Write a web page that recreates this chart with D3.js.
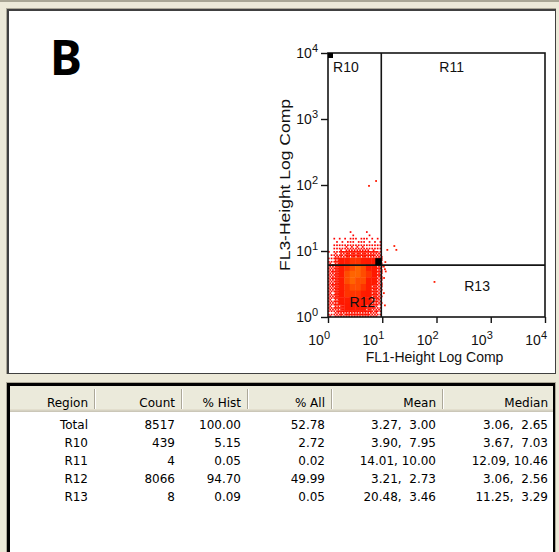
<!DOCTYPE html>
<html>
<head>
<meta charset="utf-8">
<script src="https://cdn.jsdelivr.net/npm/d3@7"></script>
<style>
	html, body { margin: 0; padding: 0; background: #ece9d8; }
	svg { display: block; }
</style>
</head>
<body>
<svg id="chart" width="559" height="552"></svg>
<script>
// ---- data ----
const columnNames = ["Region", "Count", "% Hist", "% All", "Mean", "Median"];
const regionNames = ["Total", "R10", "R11", "R12", "R13"];
const counts = [8517, 439, 4, 8066, 8];
const pctHist = ["100.00", "5.15", "0.05", "94.70", "0.09"];
const pctAll = ["52.78", "2.72", "0.02", "49.99", "0.05"];
const means = ["3.27,  3.00", "3.90,  7.95", "14.01, 10.00", "3.21,  2.73", "20.48,  3.46"];
const medians = ["3.06,  2.65", "3.67,  7.03", "12.09, 10.46", "3.06,  2.56", "11.25,  3.29"];

const axisTicks = [1, 10, 100, 1000, 10000];
const tickExponents = ["0", "1", "2", "3", "4"];

// quadrant gate (FL1, FL3)
const gateX = 9.6;
const gateY = 6.1;

// event density, in cells of 0.1 decade
// rows: FL3 from 10^1.3 (top) down to 10^0; columns: FL1 from 10^0 to 10^1.1
const densityStep = 0.1;
const density = [
	[0, 0, 0, 0, 1, 0, 0, 1, 0, 0, 0],
	[0, 1, 1, 1, 2, 1, 2, 1, 1, 1, 0],
	[0, 2, 3, 4, 4, 4, 4, 3, 3, 2, 0],
	[1, 4, 6, 8, 8, 8, 8, 7, 6, 4, 0],
	[3, 7, 9, 10, 11, 11, 10, 9, 9, 6, 0],
	[5, 8, 10, 11, 12, 13, 12, 10, 9, 6, 0],
	[5, 8, 10, 12, 13, 13, 12, 11, 9, 6, 0],
	[5, 8, 10, 12, 13, 12, 12, 10, 9, 5, 0],
	[5, 8, 10, 11, 12, 12, 11, 10, 8, 5, 0],
	[4, 8, 9, 11, 11, 11, 10, 9, 8, 4, 0],
	[4, 7, 9, 10, 10, 10, 10, 9, 7, 4, 0],
	[4, 7, 8, 9, 9, 9, 9, 8, 6, 3, 0],
	[3, 5, 6, 7, 7, 7, 7, 6, 5, 2, 0]
];

// single events away from the main cloud [FL1, FL3]
const eventsFL1 = [7.7, 5.7, 12.4, 16.7, 18.2, 11.4, 91.8, 10.7, 11.2, 11.6, 10.8, 10.7, 11.2, 9.0, 8.3];
const eventsFL3 = [115, 97, 10.4, 11.9, 10.4, 6.8, 3.4, 5.8, 5.3, 4.9, 3.9, 2.3, 1.5, 4.2, 1.9];

// region labels, in data coordinates
const regionLabelNames = ["R10", "R11", "R12", "R13"];
const regionLabelFL1 = [1.24, 190, 4.3, 560];
const regionLabelFL3 = [6150, 6150, 1.69, 2.95];


const svg = d3.select("#chart");

// ---- window frame ----
svg.append("rect").attr("x", 0).attr("y", 0).attr("width", 559).attr("height", 552).attr("fill", "#ece9d8");
svg.append("rect").attr("x", 0).attr("y", 0).attr("width", 559).attr("height", 2).attr("fill", "#a9a695");

// upper panel (plot)
svg.append("rect").attr("x", 6).attr("y", 8).attr("width", 550).attr("height", 366).attr("fill", "#aca899");
svg.append("rect").attr("x", 7).attr("y", 9).attr("width", 549).attr("height", 365).attr("fill", "#404040");
svg.append("rect").attr("x", 9).attr("y", 11).attr("width", 546).attr("height", 362).attr("fill", "#fff");

// lower panel (table)
svg.append("rect").attr("x", 6).attr("y", 382).attr("width", 550).attr("height", 170).attr("fill", "#aca899");
svg.append("rect").attr("x", 7).attr("y", 383).attr("width", 548).attr("height", 169).attr("fill", "#000");
svg.append("rect").attr("x", 10).attr("y", 386).attr("width", 543).attr("height", 166).attr("fill", "#fff");

// ---- dot plot ----
const plot = { left: 328, right: 545, top: 53, bottom: 317 };

const x = d3.scaleLog().domain([1, 10000]).range([plot.left, plot.right]);
const y = d3.scaleLog().domain([1, 10000]).range([plot.bottom, plot.top]);

const plotGroup = svg.append("g").attr("class", "plot");

// density cells: full cells are solid, sparse cells are drawn as a 4x4 dither of dots
const densityColor = d3.scaleLinear()
	.domain([1, 10, 13])
	.range(["#ff0000", "#ff1c00", "#ff6400"]);
const ditherOrder = [0, 10, 2, 8, 13, 5, 15, 7, 3, 9, 1, 11, 14, 6, 12, 4];

const cells = [];
density.forEach((row, r) => {
	const yLow = (density.length - 1 - r) * densityStep;
	row.forEach((d, c) => {
		if (d > 0) cells.push({ xLow: c * densityStep, yLow, d });
	});
});

const cellDots = [];
for (const cell of cells) {
	const x0 = x(Math.pow(10, cell.xLow));
	const x1 = x(Math.pow(10, cell.xLow + densityStep));
	const y0 = y(Math.pow(10, cell.yLow + densityStep));
	const y1 = y(Math.pow(10, cell.yLow));
	if (cell.d >= 9) {
		cellDots.push({ x: x0, y: y0, w: x1 - x0 + 0.4, h: y1 - y0 + 0.4, d: cell.d });
	} else {
		const sw = (x1 - x0) / 4, sh = (y1 - y0) / 4;
		const n = Math.round(cell.d / 9 * 16);
		for (let k = 0; k < n; k++) {
			const slot = ditherOrder[k];
			cellDots.push({ x: x0 + (slot % 4) * sw, y: y0 + Math.floor(slot / 4) * sh, w: 1.7, h: 1.7, d: cell.d });
		}
	}
}

plotGroup.append("g").attr("class", "density")
	.selectAll("rect")
	.data(cellDots)
	.join("rect")
	.attr("x", p => p.x)
	.attr("y", p => p.y)
	.attr("width", p => p.w)
	.attr("height", p => p.h)
	.attr("fill", p => densityColor(p.d));

plotGroup.append("g").attr("class", "events")
	.selectAll("rect")
	.data(eventsFL1.map((v, i) => [v, eventsFL3[i]]))
	.join("rect")
	.attr("x", e => x(e[0]) - 0.9)
	.attr("y", e => y(e[1]) - 0.9)
	.attr("width", 1.8)
	.attr("height", 1.8)
	.attr("fill", "#ff1a00");

// frame
const lineColor = "#141414";
plotGroup.append("rect")
	.attr("x", plot.left).attr("y", plot.top)
	.attr("width", plot.right - plot.left).attr("height", plot.bottom - plot.top)
	.attr("fill", "none").attr("stroke", lineColor).attr("stroke-width", 1.6);

// quadrant gate lines
plotGroup.append("line")
	.attr("x1", x(gateX)).attr("x2", x(gateX))
	.attr("y1", plot.top).attr("y2", plot.bottom)
	.attr("stroke", lineColor).attr("stroke-width", 1.6);
plotGroup.append("line")
	.attr("x1", plot.left).attr("x2", plot.right)
	.attr("y1", y(gateY)).attr("y2", y(gateY))
	.attr("stroke", lineColor).attr("stroke-width", 1.6);

// gate handles
plotGroup.append("rect")
	.attr("x", x(gateX) - 6).attr("y", y(gateY) - 7)
	.attr("width", 6).attr("height", 7).attr("fill", "#000");
plotGroup.append("rect")
	.attr("x", plot.left).attr("y", plot.top)
	.attr("width", 5).attr("height", 5).attr("fill", "#000");

// axes
const xAxis = d3.axisBottom(x).tickValues(axisTicks).tickSize(6).tickFormat("");
const yAxis = d3.axisLeft(y).tickValues(axisTicks).tickSize(7).tickFormat("");

plotGroup.append("g").attr("transform", `translate(0,${plot.bottom})`).call(xAxis)
	.call(g => g.select(".domain").remove())
	.call(g => g.selectAll("line").attr("stroke", lineColor).attr("stroke-width", 1.4));
plotGroup.append("g").attr("transform", `translate(${plot.left},0)`).call(yAxis)
	.call(g => g.select(".domain").remove())
	.call(g => g.selectAll("line").attr("stroke", lineColor).attr("stroke-width", 1.4));

const labelFont = "'Liberation Sans', Arial, sans-serif";

// tick labels: 10 with superscript exponent
function powerLabel(sel) {
	sel.append("tspan").text("10");
	sel.append("tspan").attr("dy", -6).attr("font-size", 11).text((d, i) => tickExponents[i]);
}

plotGroup.append("g").selectAll("text")
	.data(axisTicks)
	.join("text")
	.attr("x", d => x(d) + 2)
	.attr("y", plot.bottom + 28)
	.attr("text-anchor", "end")
	.attr("font-family", labelFont)
	.attr("font-size", 14)
	.attr("fill", "#111")
	.call(powerLabel);

plotGroup.append("g").selectAll("text")
	.data(axisTicks)
	.join("text")
	.attr("x", plot.left - 10)
	.attr("y", d => y(d) + 5)
	.attr("text-anchor", "end")
	.attr("font-family", labelFont)
	.attr("font-size", 14)
	.attr("fill", "#111")
	.call(powerLabel);

// axis titles
plotGroup.append("text")
	.attr("x", (plot.left + plot.right) / 2 - 2)
	.attr("y", plot.bottom + 45)
	.attr("text-anchor", "middle")
	.attr("font-family", labelFont)
	.attr("font-size", 14)
	.attr("fill", "#111")
	.text("FL1-Height Log Comp");

plotGroup.append("text")
	.attr("transform", `translate(290,${(plot.top + plot.bottom) / 2}) rotate(-90)`)
	.attr("text-anchor", "middle")
	.attr("font-family", labelFont)
	.attr("font-size", 14)
	.attr("textLength", 172)
	.attr("lengthAdjust", "spacingAndGlyphs")
	.attr("fill", "#111")
	.text("FL3-Height Log Comp");

// region labels
plotGroup.append("g").selectAll("text")
	.data(regionLabelNames)
	.join("text")
	.attr("x", (d, i) => x(regionLabelFL1[i]))
	.attr("y", (d, i) => y(regionLabelFL3[i]) + 5)
	.attr("text-anchor", (d, i) => i === 0 ? "start" : "middle")
	.attr("font-family", labelFont)
	.attr("font-size", 14)
	.attr("fill", "#111")
	.text(d => d);

// panel letter
svg.append("text")
	.attr("x", 50)
	.attr("y", 75)
	.attr("font-family", "'Noto Sans', 'Open Sans', sans-serif")
	.attr("font-weight", "bold")
	.attr("font-size", 48)
	.attr("fill", "#000")
	.text("B");

// ---- statistics table ----
const colRight = [95, 182, 248, 332, 443, 555];
const header = { top: 386, height: 26 };
const tableFont = "'DejaVu Sans', Verdana, sans-serif";

const table = svg.append("g").attr("class", "table");

table.append("rect")
	.attr("x", 10).attr("y", header.top)
	.attr("width", 543).attr("height", header.height)
	.attr("fill", "#ebeadb");
table.append("rect")
	.attr("x", 10).attr("y", header.top + header.height - 3)
	.attr("width", 543).attr("height", 1).attr("fill", "#e2decd");
table.append("rect")
	.attr("x", 10).attr("y", header.top + header.height - 2)
	.attr("width", 543).attr("height", 1).attr("fill", "#d6d2c2");
table.append("rect")
	.attr("x", 10).attr("y", header.top + header.height - 1)
	.attr("width", 543).attr("height", 1).attr("fill", "#cbc7b8");

table.selectAll("rect.divider")
	.data(colRight.slice(0, -1))
	.join("rect")
	.attr("class", "divider")
	.attr("x", d => d - 1)
	.attr("y", header.top + 3)
	.attr("width", 1)
	.attr("height", header.height - 6)
	.attr("fill", "#aca899");
table.selectAll("rect.highlight")
	.data(colRight.slice(0, -1))
	.join("rect")
	.attr("class", "highlight")
	.attr("x", d => d)
	.attr("y", header.top + 3)
	.attr("width", 1)
	.attr("height", header.height - 6)
	.attr("fill", "#fff");

table.selectAll("text.head")
	.data(columnNames)
	.join("text")
	.attr("class", "head")
	.attr("x", (d, i) => colRight[i] - 7)
	.attr("y", header.top + 21)
	.attr("text-anchor", "end")
	.attr("font-family", tableFont)
	.attr("font-size", 12)
	.attr("fill", "#000")
	.text(d => d);

const rows = regionNames.map((name, i) => [name, counts[i], pctHist[i], pctAll[i], means[i], medians[i]]);

table.selectAll("g.row")
	.data(rows)
	.join("g")
	.attr("class", "row")
	.attr("transform", (d, i) => `translate(0,${429 + i * 18})`)
	.selectAll("text")
	.data(d => d)
	.join("text")
	.attr("x", (d, i) => colRight[i] - 7)
	.attr("text-anchor", "end")
	.attr("font-family", tableFont)
	.attr("font-size", 12)
	.attr("fill", "#000")
	.style("white-space", "pre")
	.text(d => d);
</script>
</body>
</html>
